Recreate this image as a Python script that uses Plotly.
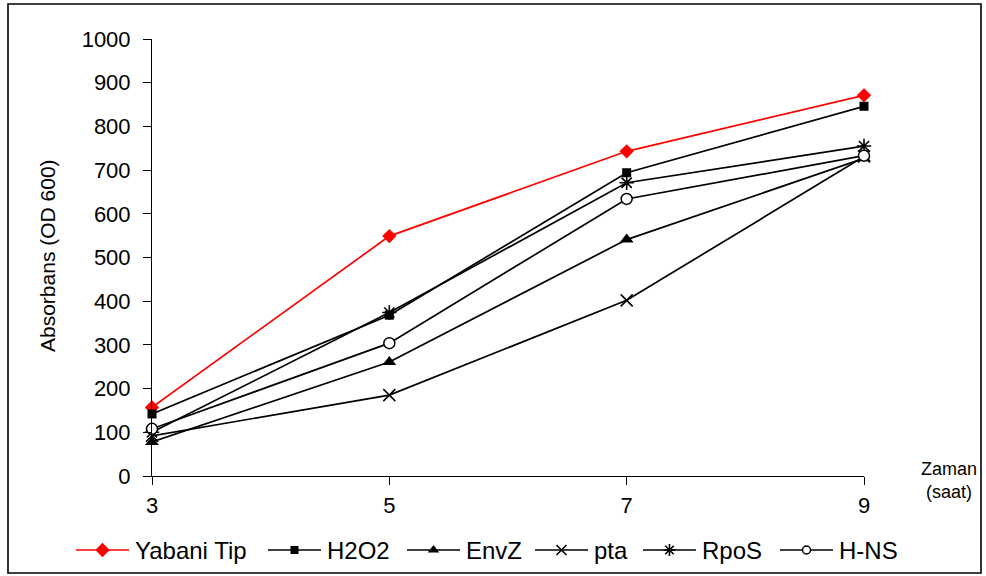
import plotly.graph_objects as go

hours = [3, 5, 7, 9]
yabani_tip = [157, 549, 743, 871]
h2o2 = [142, 368, 694, 846]
envz = [78, 261, 541, 727]
pta = [92, 185, 402, 731]
rpos = [100, 374, 671, 755]
hns = [108, 304, 634, 733]

tick_vals = [0, 100, 200, 300, 400, 500, 600, 700, 800, 900, 1000]

FONT = "Liberation Sans, Arial, sans-serif"

W, H = 986, 576
# plot area in pixels (left, right, top, bottom)
L, R, T, B = 152, 864, 39, 476

# name, values, colour, marker symbol, plot marker size, legend marker size, fill
series = [
    ("Yabani Tip", yabani_tip, "red", "diamond", 11, 11, True),
    ("H2O2", h2o2, "black", "square", 9, 8, True),
    ("EnvZ", envz, "black", "triangle-up", 12, 10, True),
    ("pta", pta, "black", "x-thin-open", 12, 10, False),
    ("RpoS", rpos, "black", "asterisk-open", 12, 10, False),
    ("H-NS", hns, "black", "circle", 11, 8, "white"),
]

# legend entry positions (sample line start, pixels from the left edge)
legend_x0 = [76, 268, 407, 535, 643, 780]
legend_line_len = 53
legend_y = 550


def px_x(v):
    return v / W


def px_y(v):
    return 1 - v / H


def marker_style(sym, size, col, fill):
    if fill is True:
        return dict(symbol=sym, size=size, color=col, line=dict(width=0))
    if fill is False:
        return dict(symbol=sym, size=size, color=col, line=dict(width=1.6, color=col))
    return dict(symbol=sym, size=size, color=fill, line=dict(width=1.5, color=col))


fig = go.Figure()
for name, vals, col, sym, msize, lsize, fill in series:
    fig.add_trace(go.Scatter(x=hours, y=vals, name=name, mode="lines+markers",
                             line=dict(color=col, width=1.7),
                             marker=marker_style(sym, msize, col, fill),
                             cliponaxis=False, showlegend=False))

# legend drawn on a full-page pixel-scaled axis pair
annotations = []
for (name, vals, col, sym, msize, lsize, fill), x0 in zip(series, legend_x0):
    x1 = x0 + legend_line_len
    xm = (x0 + x1) / 2
    fig.add_trace(go.Scatter(x=[x0, x1], y=[legend_y, legend_y], mode="lines",
                             line=dict(color=col, width=1.7), xaxis="x2", yaxis="y2",
                             cliponaxis=False, showlegend=False, hoverinfo="skip"))
    fig.add_trace(go.Scatter(x=[xm], y=[legend_y], mode="markers",
                             marker=marker_style(sym, lsize, col, fill),
                             xaxis="x2", yaxis="y2",
                             cliponaxis=False, showlegend=False, hoverinfo="skip"))
    annotations.append(dict(text=name, xref="paper", yref="paper",
                            x=px_x(x1 + 4), y=px_y(legend_y),
                            xanchor="left", yanchor="middle", showarrow=False,
                            font=dict(size=24)))

annotations.append(dict(text="Absorbans (OD 600)", xref="paper", yref="paper",
                        x=px_x(47), y=px_y(256), textangle=-90,
                        xanchor="center", yanchor="middle", showarrow=False,
                        font=dict(size=21)))
annotations.append(dict(text="Zaman<br>(saat)", xref="paper", yref="paper",
                        x=px_x(979), y=px_y(480),
                        xanchor="right", yanchor="middle", showarrow=False,
                        align="center", font=dict(size=18)))

fig.update_layout(
    width=W, height=H,
    margin=dict(l=0, r=0, t=0, b=0, autoexpand=False),
    paper_bgcolor="white", plot_bgcolor="rgba(0,0,0,0)",
    font=dict(family=FONT, size=22, color="black"),
    showlegend=False,
    xaxis=dict(domain=[px_x(L), px_x(R)], anchor="y",
               range=[3, 9], tickvals=hours, ticks="outside", ticklen=8,
               tickcolor="black", ticklabelstandoff=2,
               showline=True, linecolor="black", linewidth=1, showgrid=False,
               zeroline=False, tickfont=dict(size=22)),
    yaxis=dict(domain=[px_y(B), px_y(T)], anchor="x",
               range=[0, 1000], tickvals=tick_vals, ticks="outside", ticklen=8,
               tickcolor="black", ticklabelstandoff=8,
               showline=True, linecolor="black", linewidth=1, showgrid=False,
               zeroline=False, tickfont=dict(size=22)),
    xaxis2=dict(domain=[0, 1], anchor="y2", range=[0, W], visible=False,
                fixedrange=True),
    yaxis2=dict(domain=[0, 1], anchor="x2", range=[H, 0], visible=False,
                fixedrange=True),
    annotations=annotations,
    shapes=[
        dict(type="rect", xref="paper", yref="paper",
             x0=px_x(8), x1=px_x(981), y0=px_y(573), y1=px_y(4),
             line=dict(color="black", width=1.6)),
    ],
)

fig.write_html("out.html")
